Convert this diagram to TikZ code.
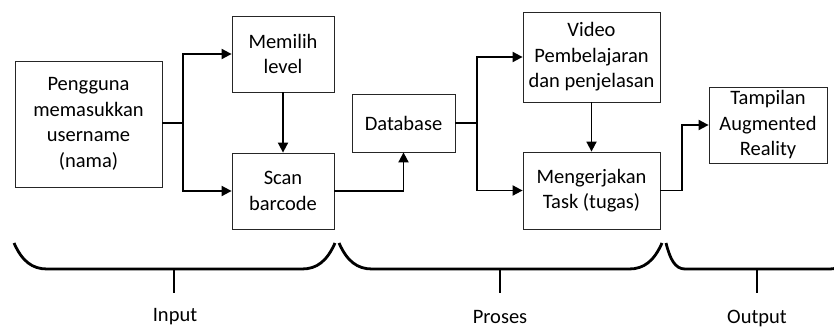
\documentclass[tikz,border=0pt]{standalone}
\usepackage{fontspec}
\setmainfont{Carlito}
\usetikzlibrary{arrows.meta}
\begin{document}
\begin{tikzpicture}[x=1pt,y=-1pt,
  box/.style={draw=black!85,line width=0.8pt,inner sep=0pt,align=center,
    font=\fontsize{20.5}{25.5}\selectfont},
  conn/.style={line width=1.8pt},
  arr/.style={conn,-{Triangle[length=10pt,width=10pt]}},
  brace/.style={line width=2.8pt},
  lbl/.style={font=\fontsize{20.5}{25}\selectfont,inner sep=0pt,anchor=base}]
\useasboundingbox (0,0) rectangle (834,329);
\begin{scope}
\clip (0,0) rectangle (834,329);
% boxes
\node[box,minimum width=147pt,minimum height=126pt] (peng) at (88.5,124) {Pengguna\\memasukkan\\username\\(nama)};
\node[box,minimum width=102pt,minimum height=76pt] (mem) at (283,54) {Memilih\\level};
\node[box,minimum width=102pt,minimum height=76pt] (scan) at (283,191) {Scan\\barcode};
\node[box,minimum width=103pt,minimum height=58pt] (db) at (403.5,123) {Database};
\node[box,minimum width=137pt,minimum height=90pt] (vid) at (591.5,57) {Video\\Pembelajaran\\dan penjelasan};
\node[box,minimum width=137pt,minimum height=77pt] (meng) at (591.5,190.5) {Mengerjakan\\Task (tugas)};
\node[box,minimum width=118pt,minimum height=76pt] (tamp) at (768,125) {Tampilan\\Augmented\\Reality};
% connectors
\coordinate (j1) at (183,123);
\draw[conn] (peng.east |- j1) -- (j1);
\draw[arr] (j1) |- (mem.west);
\draw[arr] (j1) |- (scan.west);
\draw[arr] (mem.south) -- (scan.north);
\draw[arr] (scan.east) -| (db.south);
\coordinate (j2) at (477,123);
\draw[conn] (db.east) -- (j2);
\draw[arr] (j2) |- (vid.west);
\draw[arr] (j2) |- (meng.west);
\draw[arr] (vid.south) -- (meng.north);
\coordinate (j3) at (682,190.5);
\draw[conn] (meng.east) -- (j3);
\draw[arr] (j3) |- (tamp.west);
% braces
\draw[brace] (14,243) .. controls (22,261) and (32,269) .. (47,269) -- (302,269)
  .. controls (317,269) and (327,261) .. (335,243);
\draw[brace] (339,243) .. controls (347,261) and (357,269) .. (372,269) -- (629,269)
  .. controls (644,269) and (654,261) .. (662,243);
\draw[brace] (666,243) .. controls (670,259) and (675,269) .. (685,269) -- (830,269)
  .. controls (840,269) and (846,261) .. (852,243);
\draw[brace] (174,269) -- (174,293);
\draw[brace] (500,269) -- (500,293);
\draw[brace] (757,269) -- (757,293);
\end{scope}
\node[lbl] (lin) at (175,321) {Input};
\node[lbl] (lpr) at (500,323) {Proses};
\node[lbl] (lout) at (757,323) {Output};
\end{tikzpicture}
\end{document}
